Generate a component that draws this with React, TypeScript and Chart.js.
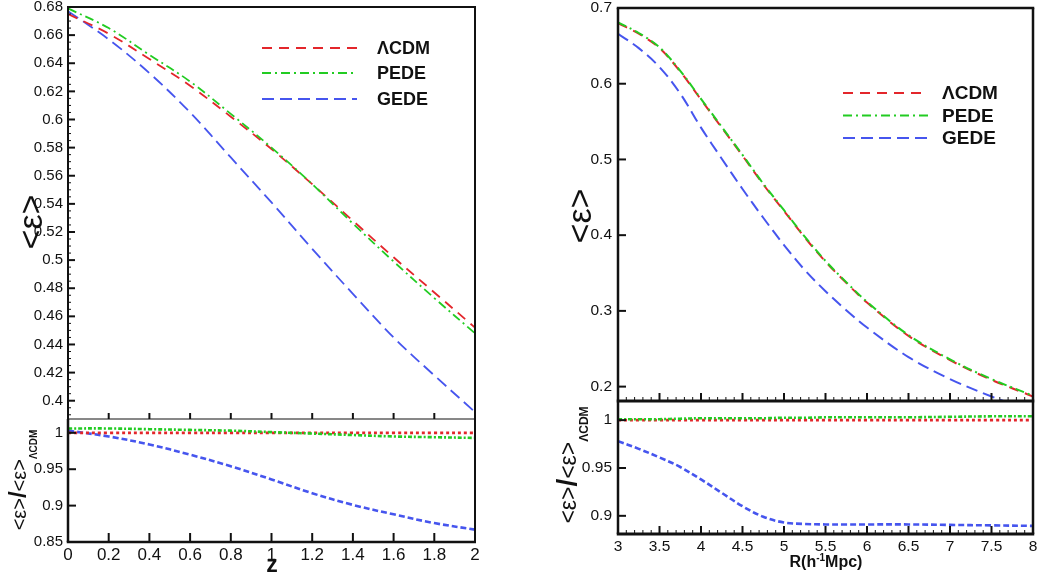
import { useEffect, useRef } from 'react';
import { Chart, registerables } from 'chart.js';

Chart.register(...registerables);

const FONT = "'Liberation Sans', Arial, Helvetica, sans-serif";

// ---------------- data ----------------
const zValues = [0, 0.2, 0.4, 0.6, 0.8, 1.0, 1.2, 1.4, 1.6, 1.8, 2.0];
const lcdmEpsZ = [0.675, 0.661, 0.643, 0.624, 0.602, 0.579, 0.554, 0.528, 0.502, 0.477, 0.452];
const pedeEpsZ = [0.679, 0.665, 0.646, 0.627, 0.604, 0.58, 0.554, 0.526, 0.499, 0.473, 0.448];
const gedeEpsZ = [0.677, 0.657, 0.633, 0.605, 0.573, 0.541, 0.508, 0.476, 0.445, 0.418, 0.392];
const lcdmRatioZ = [1, 1, 1, 1, 1, 1, 1, 1, 1, 1, 1];
const pedeRatioZ = [1.006, 1.006, 1.005, 1.004, 1.003, 1.001, 0.999, 0.997, 0.995, 0.994, 0.993];
const gedeRatioZ = [1.003, 0.995, 0.984, 0.97, 0.954, 0.936, 0.917, 0.901, 0.888, 0.876, 0.867];

const rValues = [3, 3.25, 3.5, 3.75, 4, 4.25, 4.5, 4.75, 5, 5.25, 5.5, 5.75, 6, 6.5, 7, 7.5, 8];
const lcdmEpsR = [0.68, 0.666, 0.647, 0.616, 0.579, 0.542, 0.505, 0.467, 0.432, 0.397, 0.365, 0.337, 0.311, 0.267, 0.235, 0.209, 0.187];
const pedeEpsR = [0.681, 0.667, 0.648, 0.617, 0.58, 0.543, 0.506, 0.468, 0.433, 0.398, 0.366, 0.338, 0.312, 0.268, 0.236, 0.21, 0.188];
const gedeEpsR = [0.666, 0.647, 0.622, 0.587, 0.542, 0.501, 0.461, 0.423, 0.387, 0.354, 0.326, 0.301, 0.278, 0.239, 0.21, 0.187, 0.167];
const lcdmRatioR = [1, 1, 1, 1, 1, 1, 1, 1, 1, 1, 1, 1, 1, 1, 1, 1, 1];
const pedeRatioR = [1.001, 1.001, 1.001, 1.0015, 1.002, 1.002, 1.002, 1.002, 1.0025, 1.0025, 1.003, 1.003, 1.003, 1.003, 1.0035, 1.004, 1.004];
const gedeRatioR = [0.978, 0.97, 0.961, 0.951, 0.938, 0.924, 0.91, 0.899, 0.893, 0.8915, 0.891, 0.891, 0.891, 0.891, 0.8905, 0.89, 0.8895];

// ---------------- tick labels ----------------
const zTicks = [0, 0.2, 0.4, 0.6, 0.8, 1, 1.2, 1.4, 1.6, 1.8, 2];
const epsZTicks = [0.4, 0.42, 0.44, 0.46, 0.48, 0.5, 0.52, 0.54, 0.56, 0.58, 0.6, 0.62, 0.64, 0.66, 0.68];
const ratioZTicks = [0.85, 0.9, 0.95, 1];
const rTicks = [3, 3.5, 4, 4.5, 5, 5.5, 6, 6.5, 7, 7.5, 8];
const epsRTicks = [0.2, 0.3, 0.4, 0.5, 0.6, 0.7];
const ratioRTicks = [0.9, 0.95, 1];

const seriesNames = ['ΛCDM', 'PEDE', 'GEDE'];
const seriesColors = ['#e3262b', '#22cc22', '#4655ee'];

// ---------------- helpers ----------------
type Seg = { t: string; size: number; bold?: boolean; dy?: number };
type TextItem = { x: number; y: number; rot?: boolean; segs: Seg[] };
type Legend = { x1: number; x2: number; tx: number; rows: number[]; size: number; width: number; dashes: number[][] };
type Sides = { top: number; right: number; bottom: number; left: number };

interface PanelCfg {
  box: [number, number, number, number];
  area: [number, number, number, number];
  xs: number[];
  series: number[][];
  dashes: number[][];
  lineWidth: number;
  order: number[];
  xRange: [number, number];
  yRange: [number, number];
  xTicks: number[];
  yTicks: number[];
  showX: boolean;
  xFont: number;
  yFont: number;
  xPad: number;
  yPad: number;
  xMajorLen: number;
  xMinorDiv: number;
  yMajorLen: number;
  yMinorDiv: number;
  minorLen: number;
  frame: Sides;
  legend?: Legend;
  texts: TextItem[];
}

const fmt = (v: number | string) => String(parseFloat(Number(v).toFixed(3)));

function drawRich(ctx: CanvasRenderingContext2D, item: TextItem) {
  ctx.save();
  ctx.translate(item.x, item.y);
  if (item.rot) ctx.rotate(-Math.PI / 2);
  const fontOf = (s: Seg) => `${s.bold ? 'bold ' : ''}${s.size}px ${FONT}`;
  const widths = item.segs.map((s) => {
    ctx.font = fontOf(s);
    return ctx.measureText(s.t).width;
  });
  const total = widths.reduce((a, b) => a + b, 0);
  let x = -total / 2;
  ctx.fillStyle = '#111';
  ctx.textAlign = 'left';
  ctx.textBaseline = 'alphabetic';
  item.segs.forEach((s, i) => {
    ctx.font = fontOf(s);
    ctx.fillText(s.t, x, s.dy || 0);
    x += widths[i];
  });
  ctx.restore();
}

function decorPlugin(c: PanelCfg) {
  return {
    id: 'decor',
    afterDraw(chart: any) {
      const ctx: CanvasRenderingContext2D = chart.ctx;
      const a = chart.chartArea;
      const xs = chart.scales.x;
      const ys = chart.scales.y;
      ctx.save();
      ctx.strokeStyle = '#111';
      ctx.setLineDash([]);
      const line = (x1: number, y1: number, x2: number, y2: number, w: number) => {
        ctx.lineWidth = w;
        ctx.beginPath();
        ctx.moveTo(x1, y1);
        ctx.lineTo(x2, y2);
        ctx.stroke();
      };
      // x ticks (inward, on bottom edge)
      const xt = c.xTicks;
      xt.forEach((v) => {
        const p = xs.getPixelForValue(v);
        line(p, a.bottom, p, a.bottom - c.xMajorLen, 2);
      });
      if (c.xMinorDiv > 1) {
        for (let i = 0; i < xt.length - 1; i++) {
          for (let k = 1; k < c.xMinorDiv; k++) {
            const v = xt[i] + ((xt[i + 1] - xt[i]) * k) / c.xMinorDiv;
            const p = xs.getPixelForValue(v);
            line(p, a.bottom, p, a.bottom - c.minorLen, 1);
          }
        }
      }
      // y ticks (inward, on left edge)
      const yt = c.yTicks;
      yt.forEach((v) => {
        const p = ys.getPixelForValue(v);
        line(a.left, p, a.left + c.yMajorLen, p, 2);
      });
      if (c.yMinorDiv > 1) {
        const step = yt[1] - yt[0];
        const ext = [yt[0] - step, ...yt, yt[yt.length - 1] + step];
        for (let i = 0; i < ext.length - 1; i++) {
          for (let k = 1; k < c.yMinorDiv; k++) {
            const v = ext[i] + ((ext[i + 1] - ext[i]) * k) / c.yMinorDiv;
            if (v < c.yRange[0] || v > c.yRange[1]) continue;
            const p = ys.getPixelForValue(v);
            line(a.left, p, a.left + c.minorLen, p, 1);
          }
        }
      }
      // frame
      const f = c.frame;
      if (f.top) line(a.left - f.left / 2, a.top, a.right + f.right / 2, a.top, f.top);
      if (f.bottom) line(a.left - f.left / 2, a.bottom, a.right + f.right / 2, a.bottom, f.bottom);
      if (f.left) line(a.left, a.top, a.left, a.bottom, f.left);
      if (f.right) line(a.right, a.top, a.right, a.bottom, f.right);
      // legend
      const lg = c.legend;
      if (lg) {
        const dsets = chart.data.datasets;
        lg.rows.forEach((y, i) => {
          const ds = dsets[i];
          ctx.strokeStyle = ds.borderColor;
          ctx.lineWidth = lg.width;
          ctx.setLineDash(lg.dashes[i]);
          ctx.beginPath();
          ctx.moveTo(lg.x1, y);
          ctx.lineTo(lg.x2, y);
          ctx.stroke();
          ctx.setLineDash([]);
          ctx.fillStyle = '#111';
          ctx.font = `bold ${lg.size}px ${FONT}`;
          ctx.textAlign = 'left';
          ctx.textBaseline = 'middle';
          ctx.fillText(ds.label, lg.tx, y + 1);
        });
      }
      c.texts.forEach((t) => drawRich(ctx, t));
      ctx.restore();
    },
  };
}

function buildConfig(c: PanelCfg): any {
  const [al, at, ar, ab] = c.area;
  const [, , w, h] = c.box;
  const datasets = c.series.map((ys, i) => ({
    label: seriesNames[i],
    data: c.xs.map((x, k) => ({ x, y: ys[k] })),
    borderColor: seriesColors[i],
    backgroundColor: seriesColors[i],
    borderWidth: c.lineWidth,
    borderDash: c.dashes[i],
    pointRadius: 0,
    tension: 0.35,
    fill: false,
    order: c.order[i],
  }));
  const zeroPad = (s: any) => {
    s.paddingLeft = 0;
    s.paddingRight = 0;
    s.paddingTop = 0;
    s.paddingBottom = 0;
  };
  return {
    type: 'line',
    data: { datasets },
    options: {
      responsive: false,
      animation: false,
      events: [],
      layout: {
        padding: { left: 0, top: at, right: w - ar, bottom: c.showX ? 0 : h - ab },
      },
      plugins: { legend: { display: false }, tooltip: { enabled: false } },
      scales: {
        x: {
          type: 'linear',
          min: c.xRange[0],
          max: c.xRange[1],
          display: c.showX,
          afterBuildTicks: (s: any) => {
            s.ticks = c.xTicks.map((v) => ({ value: v }));
          },
          afterFit: (s: any) => {
            if (c.showX) s.height = h - ab;
            zeroPad(s);
          },
          ticks: {
            autoSkip: false,
            maxRotation: 0,
            minRotation: 0,
            padding: c.xPad,
            color: '#111',
            font: { family: FONT, size: c.xFont },
            callback: fmt,
          },
          grid: { display: false, drawTicks: false },
          border: { display: false },
        },
        y: {
          type: 'linear',
          min: c.yRange[0],
          max: c.yRange[1],
          afterBuildTicks: (s: any) => {
            s.ticks = c.yTicks.map((v) => ({ value: v }));
          },
          afterFit: (s: any) => {
            s.width = al;
            zeroPad(s);
          },
          ticks: {
            autoSkip: false,
            padding: c.yPad,
            color: '#111',
            font: { family: FONT, size: c.yFont },
            callback: fmt,
          },
          grid: { display: false, drawTicks: false },
          border: { display: false },
        },
      },
    },
    plugins: [decorPlugin(c)],
  };
}

function Panel({ cfg }: { cfg: PanelCfg }) {
  const ref = useRef<HTMLCanvasElement | null>(null);
  useEffect(() => {
    if (!ref.current) return;
    const chart = new Chart(ref.current, buildConfig(cfg));
    return () => chart.destroy();
  }, [cfg]);
  const [l, t, w, h] = cfg.box;
  return (
    <canvas
      ref={ref}
      width={w}
      height={h}
      style={{ position: 'absolute', left: l, top: t, width: w, height: h }}
    />
  );
}

const topDash = [[10, 7], [9, 4, 2, 4], [12, 6]];
const ratioDash = [[3, 3], [4, 2, 2, 2], [6, 3]];

const epsTitle = (x: number, y: number, size: number): TextItem => ({
  x,
  y,
  rot: true,
  segs: [{ t: '<ε>', size }],
});
const ratioTitle = (x: number, y: number, main: number, sub: number, dy: number): TextItem => ({
  x,
  y,
  rot: true,
  segs: [
    { t: '<ε>', size: main },
    { t: '/', size: main * 1.2, bold: true },
    { t: '<ε>', size: main },
    { t: 'ΛCDM', size: sub, bold: true, dy },
  ],
});

const panels: PanelCfg[] = [
  {
    box: [0, 0, 490, 421],
    area: [68, 7, 475, 419],
    xs: zValues,
    series: [lcdmEpsZ, pedeEpsZ, gedeEpsZ],
    dashes: topDash,
    lineWidth: 1.8,
    order: [1, 0, 2],
    xRange: [0, 2],
    yRange: [0.387, 0.68],
    xTicks: zTicks,
    yTicks: epsZTicks,
    showX: false,
    xFont: 17,
    yFont: 15,
    xPad: 3,
    yPad: 5,
    xMajorLen: 6,
    xMinorDiv: 1,
    yMajorLen: 7,
    yMinorDiv: 4,
    minorLen: 3,
    frame: { top: 2, right: 2, bottom: 1, left: 2 },
    legend: { x1: 262, x2: 357, tx: 377, rows: [48, 73, 99], size: 18, width: 1.8, dashes: topDash },
    texts: [epsTitle(42, 222, 34)],
  },
  {
    box: [0, 419, 490, 155],
    area: [68, 0, 475, 123],
    xs: zValues,
    series: [lcdmRatioZ, pedeRatioZ, gedeRatioZ],
    dashes: ratioDash,
    lineWidth: 2.6,
    order: [1, 0, 2],
    xRange: [0, 2],
    yRange: [0.85, 1.019],
    xTicks: zTicks,
    yTicks: ratioZTicks,
    showX: true,
    xFont: 17,
    yFont: 15,
    xPad: 3,
    yPad: 5,
    xMajorLen: 9,
    xMinorDiv: 1,
    yMajorLen: 8,
    yMinorDiv: 1,
    minorLen: 3,
    frame: { top: 0, right: 2, bottom: 2.5, left: 2.5 },
    texts: [
      ratioTitle(26, 61, 20, 10, 11),
      { x: 272, y: 153, segs: [{ t: 'z', size: 23, bold: true }] },
    ],
  },
  {
    box: [530, 0, 510, 404],
    area: [88, 8, 503, 401],
    xs: rValues,
    series: [lcdmEpsR, pedeEpsR, gedeEpsR],
    dashes: topDash,
    lineWidth: 2,
    order: [1, 0, 2],
    xRange: [3, 8],
    yRange: [0.181, 0.7],
    xTicks: rTicks,
    yTicks: epsRTicks,
    showX: false,
    xFont: 15,
    yFont: 15.5,
    xPad: 3,
    yPad: 6,
    xMajorLen: 8,
    xMinorDiv: 5,
    yMajorLen: 8,
    yMinorDiv: 1,
    minorLen: 4,
    frame: { top: 2.5, right: 2.5, bottom: 3, left: 2.5 },
    legend: { x1: 313, x2: 398, tx: 412, rows: [93, 115.5, 138], size: 19, width: 2, dashes: topDash },
    texts: [epsTitle(61, 216, 34)],
  },
  {
    box: [530, 401, 510, 173],
    area: [88, 0, 503, 133],
    xs: rValues,
    series: [lcdmRatioR, pedeRatioR, gedeRatioR],
    dashes: ratioDash,
    lineWidth: 2.6,
    order: [1, 0, 2],
    xRange: [3, 8],
    yRange: [0.881, 1.02],
    xTicks: rTicks,
    yTicks: ratioRTicks,
    showX: true,
    xFont: 15.5,
    yFont: 15.5,
    xPad: 3,
    yPad: 6,
    xMajorLen: 8,
    xMinorDiv: 5,
    yMajorLen: 8,
    yMinorDiv: 1,
    minorLen: 4,
    frame: { top: 0, right: 2.5, bottom: 3, left: 2.5 },
    texts: [
      ratioTitle(46, 64, 23, 12, 12),
      {
        x: 296,
        y: 166,
        segs: [
          { t: 'R(h', size: 16, bold: true },
          { t: '-1', size: 10, bold: true, dy: -6 },
          { t: 'Mpc)', size: 16, bold: true },
        ],
      },
    ],
  },
];

export default function App() {
  return (
    <div style={{ position: 'fixed', left: 0, top: 0, width: 1040, height: 574, background: '#fff', overflow: 'hidden' }}>
      {panels.map((p, i) => (
        <Panel key={i} cfg={p} />
      ))}
    </div>
  );
}
